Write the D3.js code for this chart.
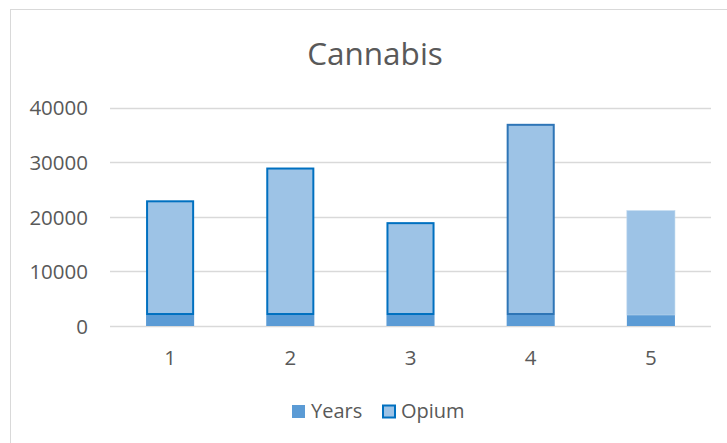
<!DOCTYPE html>
<html>
<head>
<meta charset="utf-8">
<script src="https://cdn.jsdelivr.net/npm/d3@7"></script>
<style>
  html, body { margin: 0; padding: 0; background: #fff; }
  svg { display: block; }
  text { font-family: "Open Sans", "Liberation Sans", Arial, sans-serif; fill: #595959; }
</style>
</head>
<body>
<svg id="chart" width="727" height="443"></svg>
<script>
const categories = ["1", "2", "3", "4", "5"];
const years = [2010, 2011, 2012, 2013, 2014];
const opium = [21000, 27000, 17000, 35000, 19100];
const yTicks = [0, 10000, 20000, 30000, 40000];
const seriesNames = ["Years", "Opium"];
const chartTitle = "Cannabis";

// styling (not data)
const opiumStroke = ["#0070C0", "#0070C0", "#0070C0", "#2E75B6", "none"];
const FONT = '"Open Sans", "Liberation Sans", Arial, sans-serif';

const svg = d3.select("#chart");

// chart area border
svg.append("rect").attr("x", 10.5).attr("y", 9.5).attr("width", 740).attr("height", 460)
  .attr("fill", "#fff").attr("stroke", "#d9d9d9").attr("stroke-width", 1);

const x = d3.scaleBand().domain(categories).range([110, 711]).paddingInner(0.6).paddingOuter(0.3);
const y = d3.scaleLinear().domain([0, 40000]).range([326, 107.5]);

// gridlines
svg.append("g").selectAll("line").data(yTicks).join("line")
  .attr("x1", 110).attr("x2", 711)
  .attr("y1", d => Math.round(y(d)) + 0.5).attr("y2", d => Math.round(y(d)) + 0.5)
  .attr("stroke", "#d9d9d9").attr("stroke-width", 1.3);

// y axis labels
const yAxis = d3.axisLeft(y).tickValues(yTicks).tickSize(0).tickPadding(0).tickFormat(d3.format("d"));
const gy = svg.append("g").attr("transform", "translate(88,0)").call(yAxis);
gy.select(".domain").remove();
gy.selectAll("text").attr("font-size", 20.5).attr("fill", "#595959")
  .style("font-family", FONT).attr("dy", "0.36em");

// x axis labels
const xAxis = d3.axisBottom(x).tickSize(0).tickPadding(0);
const gx = svg.append("g").attr("transform", "translate(0,350)").call(xAxis);
gx.select(".domain").remove();
gx.selectAll("text").attr("font-size", 20.5).attr("fill", "#595959")
  .style("font-family", FONT).attr("dy", "0.72em");

// stacked data
const rows = categories.map((c, i) => ({ cat: c, Years: years[i], Opium: opium[i], i }));
const stack = d3.stack().keys(seriesNames)(rows);

// Years
svg.append("g").selectAll("rect").data(stack[0]).join("rect")
  .attr("x", d => x(d.data.cat))
  .attr("width", x.bandwidth())
  .attr("y", d => y(d[1]))
  .attr("height", d => y(d[0]) - y(d[1]))
  .attr("fill", "#5B9BD5");

// Opium
const hasB = d => opiumStroke[d.data.i] !== "none";
svg.append("g").selectAll("rect").data(stack[1]).join("rect")
  .attr("x", d => x(d.data.cat) + (hasB(d) ? 1 : 0))
  .attr("width", d => x.bandwidth() - (hasB(d) ? 2 : 0))
  .attr("y", d => y(d[1]) + (hasB(d) ? 1 : 0))
  .attr("height", d => y(d[0]) - y(d[1]) - (hasB(d) ? 2 : 0))
  .attr("fill", "#9DC3E6")
  .attr("stroke", d => hasB(d) ? opiumStroke[d.data.i] : "#BDD7EE")
  .attr("stroke-width", d => hasB(d) ? 2 : 0.6);

// title
svg.append("text").attr("x", 375).attr("y", 65).attr("text-anchor", "middle")
  .attr("font-size", 31.5).text(chartTitle);

// legend
const lg = svg.append("g");
lg.append("rect").attr("x", 292).attr("y", 405).attr("width", 13).attr("height", 13).attr("fill", "#5B9BD5");
lg.append("text").attr("x", 311).attr("y", 418).attr("font-size", 20).text(seriesNames[0]);
lg.append("rect").attr("x", 383).attr("y", 405.5).attr("width", 12).attr("height", 12)
  .attr("fill", "#9DC3E6").attr("stroke", "#0070C0").attr("stroke-width", 2);
lg.append("text").attr("x", 401).attr("y", 418).attr("font-size", 20).text(seriesNames[1]);
</script>
</body>
</html>
